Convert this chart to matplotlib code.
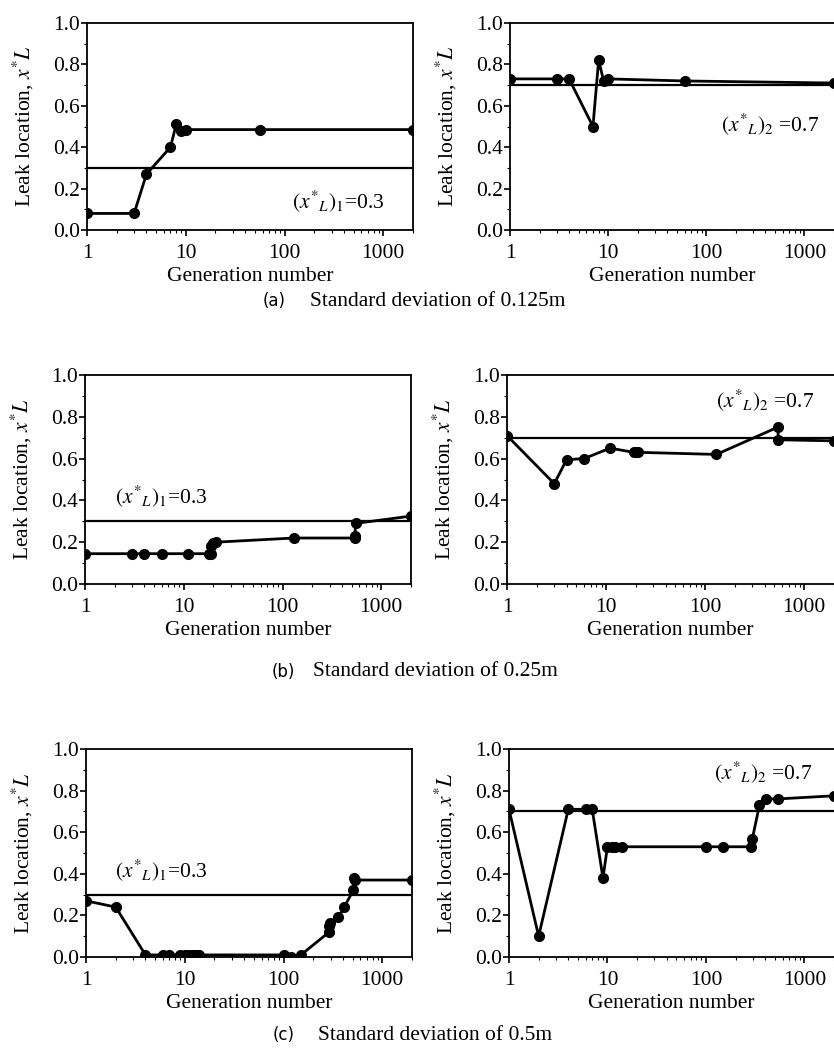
import matplotlib
matplotlib.use("Agg")
import matplotlib.pyplot as plt

plt.rcParams['font.family'] = ['Liberation Serif', 'DejaVu Serif']
plt.rcParams['mathtext.fontset'] = 'stix'

# ---- data (generation number, leak location x*_L) ----
# (a) standard deviation 0.125 m
a1_gen = [1, 3, 4, 7, 8, 9, 10, 56, 2000]
a1_xl = [0.08, 0.08, 0.27, 0.40, 0.51, 0.48, 0.485, 0.485, 0.485]
a2_gen = [1, 3, 4, 7, 8, 9, 10, 60, 2000]
a2_xl = [0.73, 0.73, 0.73, 0.50, 0.82, 0.72, 0.73, 0.72, 0.71]

# (b) standard deviation 0.25 m
b1_gen = [1, 3, 4, 6, 11, 18, 19, 19, 20, 21, 130, 540, 540, 550, 2000]
b1_xl = [0.145, 0.145, 0.145, 0.145, 0.145, 0.145, 0.145, 0.18, 0.195, 0.20,
         0.22, 0.22, 0.23, 0.29, 0.325]
b2_gen = [1, 3, 4, 6, 11, 19, 20, 21, 130, 540, 550, 2000]
b2_xl = [0.71, 0.48, 0.595, 0.60, 0.65, 0.63, 0.63, 0.63, 0.62, 0.75, 0.69, 0.685]

# (c) standard deviation 0.5 m
c1_gen = [1, 2, 4, 6, 7, 9, 10, 11, 12, 13, 14, 100, 120, 150,
          290, 290, 295, 360, 410, 510, 520, 530, 2000]
c1_xl = [0.27, 0.24, 0.01, 0.01, 0.01, 0.01, 0.01, 0.01, 0.01, 0.01, 0.01, 0.01, 0.0, 0.01,
         0.12, 0.15, 0.165, 0.19, 0.24, 0.32, 0.38, 0.37, 0.37]
c2_gen = [1, 2, 4, 6, 7, 9, 10, 11, 12, 14, 100, 150, 290, 295, 350, 410, 540, 2000]
c2_xl = [0.71, 0.10, 0.71, 0.71, 0.71, 0.38, 0.53, 0.53, 0.53, 0.53, 0.53, 0.53,
         0.53, 0.565, 0.73, 0.76, 0.76, 0.775]

true_xl = [0.3, 0.7]
captions = ["Standard deviation of 0.125m", "Standard deviation of 0.25m",
            "Standard deviation of 0.5m"]
caption_tags = ["(a)", "(b)", "(c)"]

series = [(a1_gen, a1_xl), (a2_gen, a2_xl),
          (b1_gen, b1_xl), (b2_gen, b2_xl),
          (c1_gen, c1_xl), (c2_gen, c2_xl)]

# annotation anchor (x in data, y in data) per panel
ann_pos = [(120, 0.14), (140, 0.51),
           (2.0, 0.42), (128, 0.88),
           (1.95, 0.42), (122, 0.89)]

W, H = 834, 1048
fig = plt.figure(figsize=(W / 100, H / 100), dpi=100)

# axes boxes in pixels: (left, top, right, bottom)
boxes = [(87, 23, 413, 230), (510, 23, 834, 230),
         (85, 375, 411, 584), (507, 375, 834, 584),
         (86, 749, 412, 957), (509, 749, 834, 957)]

for i, (gen, xl) in enumerate(series):
    l, t, r, b = boxes[i]
    ax = fig.add_axes([l / W, 1 - b / H, (r - l) / W, (b - t) / H])
    side = i % 2
    ax.axhline(true_xl[side], color='black', lw=1.6, zorder=2)
    ax.plot(gen, xl, '-o', color='black', lw=2.0, ms=7, zorder=3)
    ax.set_xscale('log')
    ax.set_xlim(1, 2000)
    ax.set_ylim(0, 1.0)
    ax.set_xticks([1, 10, 100, 1000])
    ax.set_xticklabels(['1', '10', '100', '1000'])
    ax.set_yticks([0.0, 0.2, 0.4, 0.6, 0.8, 1.0])
    ax.set_yticklabels(['0.0', '0.2', '0.4', '0.6', '0.8', '1.0'])
    ax.set_yticks([0.1, 0.3, 0.5, 0.7, 0.9], minor=True)
    ax.tick_params(axis='x', which='major', direction='out', length=4, width=1.2,
                   labelsize=15.5, pad=6)
    ax.tick_params(axis='y', which='major', direction='out', length=4, width=1.2,
                   labelsize=15.5, pad=1)
    ax.tick_params(which='minor', direction='out', length=2, width=0.8)
    for sp in ax.spines.values():
        sp.set_linewidth(1.3)
    if side == 1:
        ax.spines['right'].set_visible(False)
    ax.set_xlabel('Generation number', fontsize=15.5, labelpad=3)
    ax.set_ylabel(r'Leak location, $x^{*}L$', fontsize=15.5, labelpad=12)
    if side == 0:
        txt = r'$(x^{*}{}_{L})_{1}$=0.3'
    else:
        txt = r'$(x^{*}{}_{L})_{2}$ =0.7'
    ax.text(ann_pos[i][0], ann_pos[i][1], txt, fontsize=15.5, va='center', ha='left')

# captions under each row
cap_y = [301, 672, 1035]
cap_x = [310, 313, 318]
tag_x = [263, 272, 273]
for k in range(3):
    fig.text(tag_x[k] / W, 1 - cap_y[k] / H, caption_tags[k], fontsize=12,
             family='DejaVu Sans', va='center', ha='left')
    fig.text(cap_x[k] / W, 1 - cap_y[k] / H, captions[k], fontsize=15.5,
             va='center', ha='left')

fig.savefig('out.png', dpi=100)
